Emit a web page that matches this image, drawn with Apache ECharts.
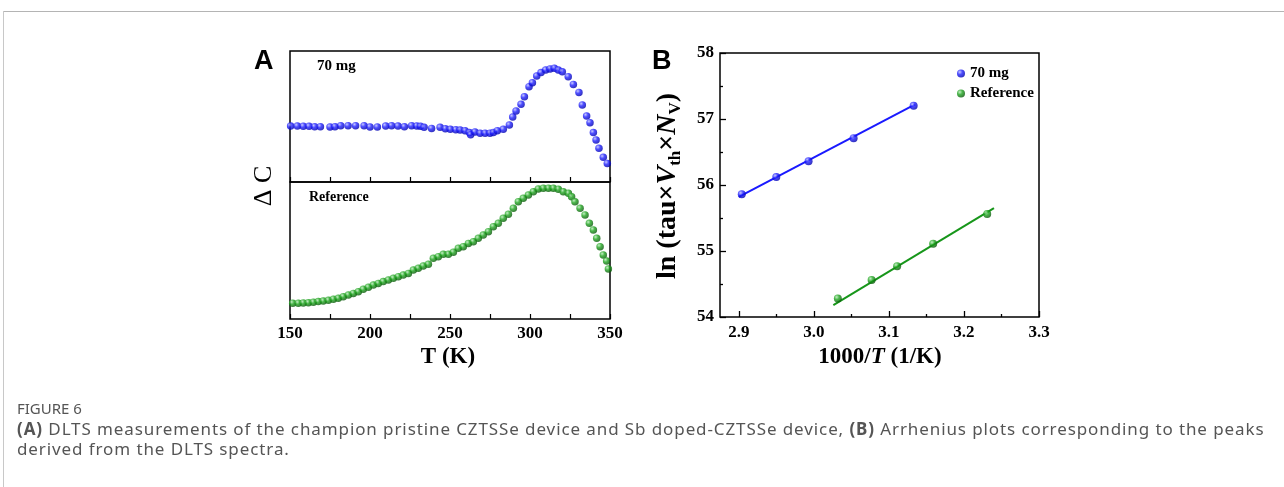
<!DOCTYPE html>
<html>
<head>
<meta charset="utf-8">
<script src="https://cdn.jsdelivr.net/npm/echarts@6/dist/echarts.min.js"></script>
<style>
html,body{margin:0;padding:0;background:#fff;}
#wrap{position:relative;width:1284px;height:487px;overflow:hidden;}
#chart{position:absolute;left:0;top:0;width:1284px;height:487px;}
.frameTop{position:absolute;left:3px;top:11px;width:1281px;height:0;border-top:1px solid #b4b4b4;}
.frameLeft{position:absolute;left:3px;top:11px;width:0;height:476px;border-left:1px solid #c8c8c8;}
.cap{position:absolute;left:17px;font-family:"Noto Sans",sans-serif;color:#555;white-space:nowrap;}
</style>
</head>
<body>
<div id="wrap">
<div class="frameTop"></div>
<div class="frameLeft"></div>
<div id="chart"></div>
<div class="cap" id="fig" style="top:398px;font-size:15px;">FIGURE 6</div>
<div class="cap" id="l1" style="top:417px;font-size:17px;letter-spacing:0.9px;"><b>(A)</b> DLTS measurements of the champion pristine CZTSSe device and Sb doped-CZTSSe device, <b>(B)</b> Arrhenius plots corresponding to the peaks</div>
<div class="cap" id="l2" style="top:437px;font-size:17px;letter-spacing:0.9px;">derived from the DLTS spectra.</div>
</div>
<script>
// ---- Panel A: DLTS spectra ----
const tA70 = [150.4,154.6,158.3,161.9,165.4,169.0,175.0,178.1,181.7,186.3,191.0,196.3,200.0,204.6,209.8,213.5,217.5,221.5,226.0,229.2,231.5,233.8,238.5,243.8,247.1,250.2,253.6,256.3,259.4,262.1,262.9,265.6,268.8,271.9,275.0,277.1,279.6,283.3,287.1,289.2,291.3,294.4,296.5,299.4,301.5,304.2,306.9,309.8,312.5,315.2,317.7,320.2,323.9,327.1,330.6,332.7,335.4,337.5,339.6,341.3,343.1,345.8,348.3];
const dcA70 = [42.7,42.7,42.5,42.5,42.2,42.2,42.0,42.2,43.0,43.0,43.0,43.0,42.0,42.0,42.7,43.0,42.7,42.2,43.0,42.7,42.5,41.7,40.9,41.7,40.7,40.2,39.9,39.7,39.2,37.7,36.1,38.2,37.2,37.2,37.2,37.7,39.2,40.2,43.5,49.6,54.2,59.3,65.1,72.8,75.8,80.9,83.5,85.5,86.3,86.8,85.5,84.2,80.4,74.5,68.4,58.8,50.4,45.3,37.7,32.1,25.7,18.8,14.2];
const tARef = [151.7,155.2,158.3,161.5,164.6,167.7,170.8,174.0,177.1,180.2,183.3,186.5,189.6,192.7,195.8,199.0,202.1,205.2,208.3,211.5,214.6,217.7,220.8,224.0,227.1,230.2,233.3,236.5,239.6,242.7,245.8,249.0,252.1,255.2,258.3,261.5,264.6,267.7,270.8,274.0,277.1,280.2,283.3,286.5,289.6,292.7,295.8,299.0,302.1,305.2,308.3,311.5,314.6,317.7,320.8,324.0,326.0,328.1,331.3,334.4,337.1,339.6,341.7,343.8,345.8,347.9,349.0];
const dcARef = [11.5,11.5,11.7,11.9,12.2,12.7,13.1,13.6,14.4,15.1,16.3,17.5,18.7,19.9,21.7,23.1,24.8,26.0,27.3,28.5,29.7,30.9,32.1,33.3,35.8,37.0,38.7,39.9,44.3,45.5,47.2,47.2,48.7,51.6,52.8,55.2,56.4,58.9,61.3,63.7,67.4,69.8,73.5,76.4,80.8,85.6,88.1,90.5,92.9,94.9,95.4,95.4,95.4,94.7,92.9,91.7,89.3,85.6,80.8,75.9,69.8,65.0,58.9,52.8,46.7,42.3,36.5];
const tTicksA = [150,200,250,300,350];

// ---- Panel B: Arrhenius plots ----
const invT70 = [2.904,2.950,2.993,3.053,3.133];
const ln70 = [55.86,56.12,56.36,56.71,57.20];
const invTRef = [3.032,3.077,3.111,3.159,3.231];
const lnRef = [54.28,54.56,54.77,55.11,55.56];
const fit70X = [2.900,3.135];
const fit70Y = [55.82,57.22];
const fitRefX = [3.026,3.240];
const fitRefY = [54.18,55.65];
const xTicksB = [2.9,3.0,3.1,3.2,3.3];
const xMinorB = [2.95,3.05,3.15,3.25];

const zip = (a,b)=>a.map((v,i)=>[v,b[i]]);
const SERIF = '"Liberation Serif","Times New Roman",serif';
const SANS = '"Liberation Sans",Arial,sans-serif';
const blue = '#1a1aff', green = '#17961a';
const ball = (c0,c1,c2)=>({type:'radial',x:0.35,y:0.32,r:0.7,colorStops:[{offset:0,color:c0},{offset:0.45,color:c1},{offset:1,color:c2}]});
const blueBall = ball('#b8baff','#2020ff','#0000b0');
const greenBall = ball('#b6eab6','#1ea51e','#0a5a0a');

const tickLbl = {fontFamily:SERIF,fontWeight:'bold',fontSize:17,color:'#000'};

const chart = echarts.init(document.getElementById('chart'),null,{renderer:'canvas'});
chart.setOption({
  animation:false,
  backgroundColor:'transparent',
  grid:[
    {left:290,top:51,width:320,height:131,show:true,borderColor:'#000',borderWidth:1.5,backgroundColor:'transparent'},
    {left:290,top:182,width:320,height:137,show:true,borderColor:'#000',borderWidth:1.5,backgroundColor:'transparent'},
    {left:720,top:53,width:319,height:264,show:true,borderColor:'#000',borderWidth:1.5,backgroundColor:'transparent'}
  ],
  xAxis:[
    {gridIndex:0,type:'value',min:150,max:350,interval:50,axisLine:{show:false},
     axisTick:{inside:true,length:5,lineStyle:{color:'#000',width:1.2}},
     minorTick:{show:true,splitNumber:2,length:5,lineStyle:{color:'#000',width:1.2}},
     axisLabel:{show:false},splitLine:{show:false},minorSplitLine:{show:false}},
    {gridIndex:1,type:'value',min:150,max:350,interval:50,axisLine:{show:false},
     axisTick:{inside:true,length:5,lineStyle:{color:'#000',width:1.2}},
     minorTick:{show:true,splitNumber:2,length:5,lineStyle:{color:'#000',width:1.2}},
     axisLabel:Object.assign({margin:6,customValues:tTicksA},tickLbl),splitLine:{show:false}},
    {gridIndex:2,type:'value',min:2.875,max:3.3,axisLine:{show:false},
     axisTick:{inside:true,length:6,customValues:xTicksB,lineStyle:{color:'#000',width:1.3}},
     axisLabel:Object.assign({margin:7,customValues:xTicksB,formatter:v=>v.toFixed(1)},tickLbl),splitLine:{show:false}},
    {gridIndex:2,type:'value',min:2.875,max:3.3,position:'bottom',axisLine:{show:false},
     axisTick:{inside:true,length:3,customValues:xMinorB,lineStyle:{color:'#000',width:1.3}},
     axisLabel:{show:false},splitLine:{show:false}}
  ],
  yAxis:[
    {gridIndex:0,type:'value',min:0,max:100,show:false},
    {gridIndex:1,type:'value',min:0,max:100,show:false},
    {gridIndex:2,type:'value',min:54,max:58,interval:1,axisLine:{show:false},
     axisTick:{inside:true,length:6,lineStyle:{color:'#000',width:1.3}},
     minorTick:{show:true,splitNumber:2,length:3,lineStyle:{color:'#000',width:1.3}},
     axisLabel:Object.assign({margin:6},tickLbl),splitLine:{show:false},minorSplitLine:{show:false}}
  ],
  legend:{
    data:['70 mg','Reference'],orient:'vertical',left:952,top:61,itemWidth:8,itemHeight:8,itemGap:5,
    icon:'circle',textStyle:{fontFamily:SERIF,fontWeight:'bold',fontSize:15,color:'#000'}
  },
  series:[
    {type:'scatter',xAxisIndex:0,yAxisIndex:0,data:zip(tA70,dcA70),symbolSize:7.5,itemStyle:{color:blueBall},z:3},
    {type:'scatter',xAxisIndex:1,yAxisIndex:1,data:zip(tARef,dcARef),symbolSize:7.5,itemStyle:{color:greenBall},z:3},
    {type:'line',xAxisIndex:2,yAxisIndex:2,data:zip(fit70X,fit70Y),showSymbol:false,symbol:'none',lineStyle:{color:blue,width:2},z:2},
    {type:'line',xAxisIndex:2,yAxisIndex:2,data:zip(fitRefX,fitRefY),showSymbol:false,symbol:'none',lineStyle:{color:green,width:2},z:2},
    {name:'70 mg',type:'scatter',xAxisIndex:2,yAxisIndex:2,data:zip(invT70,ln70),symbolSize:8,itemStyle:{color:blueBall},z:3},
    {name:'Reference',type:'scatter',xAxisIndex:2,yAxisIndex:2,data:zip(invTRef,lnRef),symbolSize:8,itemStyle:{color:greenBall},z:3}
  ],
  graphic:[
    {type:'text',left:254,top:48,style:{text:'A',font:'bold 27px '+SANS,fill:'#000'}},
    {type:'text',left:652,top:48,style:{text:'B',font:'bold 27px '+SANS,fill:'#000'}},
    {type:'text',x:317,y:66,style:{text:'70 mg',font:'bold 15px '+SERIF,fill:'#000',verticalAlign:'middle'}},
    {type:'text',x:309,y:197,style:{text:'Reference',font:'bold 14px '+SERIF,fill:'#000',verticalAlign:'middle'}},
    {type:'text',x:448,y:357,style:{text:'T (K)',font:'bold 23px '+SERIF,fill:'#000',align:'center',verticalAlign:'middle'}},
    {type:'text',x:880,y:357,style:{
      text:'{b|1000/}{i|T}{b| (1/K)}',align:'center',verticalAlign:'middle',
      rich:{b:{font:'bold 23px '+SERIF,fill:'#000'},i:{font:'italic bold 23px '+SERIF,fill:'#000'}}}},
    {type:'text',x:264,y:186,rotation:Math.PI/2,style:{text:'Δ C',font:'26px '+SERIF,fill:'#000',align:'center',verticalAlign:'middle'}},
    {type:'text',x:668,y:186,rotation:Math.PI/2,style:{
      text:'{b|ln (tau×}{i|V}{s|th}{b|×}{i|N}{s|V}{b|)}',align:'center',verticalAlign:'middle',
      rich:{
        b:{font:'bold 28px '+SERIF,fill:'#000',lineHeight:32},
        i:{font:'italic bold 28px '+SERIF,fill:'#000',lineHeight:32},
        s:{font:'bold 17px '+SERIF,fill:'#000',lineHeight:32,padding:[15,0,0,0]}
      }}}
  ]
});
</script>
</body>
</html>
